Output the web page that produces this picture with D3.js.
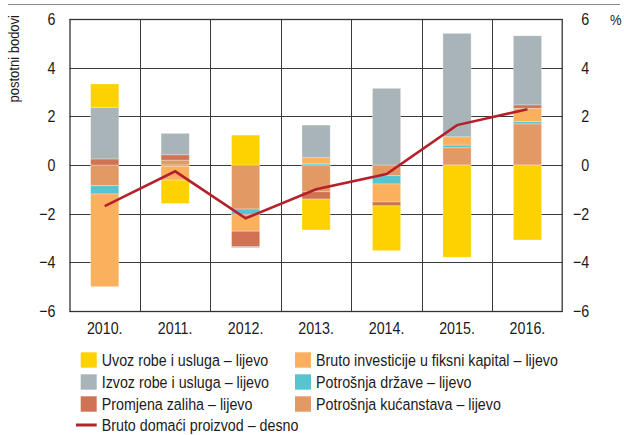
<!DOCTYPE html>
<html>
<head>
<meta charset="utf-8">
<script src="https://cdn.jsdelivr.net/npm/d3@7"></script>
<style>
  body { margin: 0; background: #fff; }
  text { font-family: "Liberation Sans", Arial, sans-serif; fill: #1d1a1b; }
</style>
</head>
<body>
<div id="chart"></div>
<script>
// data
const years = ["2010.", "2011.", "2012.", "2013.", "2014.", "2015.", "2016."]
const kucanstva = [-0.85, 0.20, -1.81, -1.10, -0.44, 0.71, 1.69]
const drzava = [-0.34, -0.05, -0.22, 0.05, -0.34, 0.11, 0.09]
const investicije = [-3.81, -0.57, -0.69, 0.25, -0.74, 0.34, 0.55]
const zaliha = [0.25, 0.22, -0.64, -0.30, -0.16, 0.0, 0.14]
const izvoz = [2.12, 0.88, -0.04, 1.34, 3.15, 4.25, 2.84]
const uvoz = [0.96, -0.96, 1.23, -1.27, -1.84, -3.79, -3.08]
const bdp = [-1.69, -0.26, -2.19, -1.00, -0.37, 1.64, 2.29]
const yTicks = [-6, -4, -2, 0, 2, 4, 6]

const width = 624, height = 435
const margin = {top: 19, right: 61.3, bottom: 124, left: 69.5}
const narrow = 0.84  // condensed face look

const series = [
  {key: "kucanstva", values: kucanstva, color: "#e29963", label: "Potrošnja kućanstava – lijevo"},
  {key: "drzava", values: drzava, color: "#56c5cf", label: "Potrošnja države – lijevo"},
  {key: "investicije", values: investicije, color: "#fbb05e", label: "Bruto investicije u fiksni kapital – lijevo"},
  {key: "zaliha", values: zaliha, color: "#d07355", label: "Promjena zaliha – lijevo"},
  {key: "izvoz", values: izvoz, color: "#a9b4b9", label: "Izvoz robe i usluga – lijevo"},
  {key: "uvoz", values: uvoz, color: "#fdd200", label: "Uvoz robe i usluga – lijevo"}
]

const table = years.map((y, i) => {
  const row = {year: y}
  series.forEach(s => row[s.key] = s.values[i])
  return row
})

const stack = d3.stack()
  .keys(series.map(s => s.key))
  .offset(d3.stackOffsetDiverging)
const stacked = stack(table)

const x = d3.scaleBand()
  .domain(years)
  .range([margin.left, width - margin.right])
  .padding(0)

const y = d3.scaleLinear()
  .domain([-6, 6])
  .range([height - margin.bottom, margin.top])

const svg = d3.select("#chart").append("svg")
  .attr("width", width)
  .attr("height", height)

// squeeze text horizontally around its anchor point
function condense(sel) {
  sel.each(function() {
    const t = d3.select(this)
    const tx = +t.attr("x") || 0, ty = +t.attr("y") || 0
    t.attr("x", 0).attr("y", 0)
      .attr("transform", `translate(${tx},${ty}) scale(${narrow},1)`)
  })
}

// top rule
svg.append("line")
  .attr("x1", 8).attr("x2", 620)
  .attr("y1", 4.5).attr("y2", 4.5)
  .attr("stroke", "#8a8a8a")
  .attr("stroke-width", 1)

// grid
const grid = svg.append("g").attr("stroke", "#3a3a3a").attr("stroke-width", 1)
grid.selectAll("line.h")
  .data(yTicks)
  .join("line")
    .attr("class", "h")
    .attr("x1", margin.left).attr("x2", width - margin.right)
    .attr("y1", d => Math.round(y(d)) + 0.5)
    .attr("y2", d => Math.round(y(d)) + 0.5)
grid.selectAll("line.v")
  .data(years.slice(1))
  .join("line")
    .attr("class", "v")
    .attr("x1", d => Math.round(x(d)) + 0.5)
    .attr("x2", d => Math.round(x(d)) + 0.5)
    .attr("y1", margin.top).attr("y2", height - margin.bottom)

// bars
const barW = x.bandwidth() * 0.4
svg.append("g")
  .selectAll("g")
  .data(stacked)
  .join("g")
    .attr("fill", (d, i) => series[i].color)
  .selectAll("rect")
  .data(d => d)
  .join("rect")
    .attr("x", d => x(d.data.year) + (x.bandwidth() - barW) / 2)
    .attr("width", barW)
    .attr("y", d => y(Math.max(d[0], d[1])))
    .attr("height", d => Math.abs(y(d[0]) - y(d[1])))
    .attr("stroke", "#ffffff")
    .attr("stroke-opacity", 0.35)
    .attr("stroke-width", 0.8)

// frame
svg.append("rect")
  .attr("x", margin.left + 0.5)
  .attr("y", margin.top + 0.5)
  .attr("width", width - margin.left - margin.right - 1)
  .attr("height", height - margin.top - margin.bottom)
  .attr("fill", "none")
  .attr("stroke", "#333")
  .attr("stroke-width", 1.3)

// GDP line
const line = d3.line()
  .x((d, i) => x(years[i]) + x.bandwidth() / 2)
  .y(d => y(d))
svg.append("path")
  .datum(bdp)
  .attr("d", line)
  .attr("fill", "none")
  .attr("stroke", "#b5202a")
  .attr("stroke-width", 2.6)

// axes
const fmt = d => d < 0 ? "\u2212" + Math.abs(d) : String(d)
const leftAxis = d3.axisLeft(y).tickValues(yTicks).tickFormat(fmt).tickSize(0).tickPadding(14)
const rightAxis = d3.axisRight(y).tickValues(yTicks).tickFormat(fmt).tickSize(0).tickPadding(9)
const gl = svg.append("g").attr("transform", `translate(${margin.left},0)`).call(leftAxis)
const gr = svg.append("g").attr("transform", `translate(${width - margin.right},0)`).call(rightAxis)
;[gl, gr].forEach(g => {
  g.select(".domain").remove()
  g.selectAll("text")
    .style("font-size", "17px")
    .attr("font-family", null)
})
gr.selectAll("text").attr("text-anchor", "end").attr("x", 26.5)
condense(gl.selectAll("text"))
condense(gr.selectAll("text"))

const xAxis = d3.axisBottom(x).tickSize(0).tickPadding(11)
const gx = svg.append("g").attr("transform", `translate(0,${height - margin.bottom})`).call(xAxis)
gx.select(".domain").remove()
gx.selectAll("text").style("font-size", "17px").attr("font-family", null)
condense(gx.selectAll("text"))

svg.append("text")
  .attr("text-anchor", "end")
  .attr("transform", `translate(19,15) rotate(-90) scale(${narrow},1)`)
  .style("font-size", "15.5px")
  .text("postotni bodovi")

svg.append("text")
  .attr("x", 610).attr("y", 25)
  .style("font-size", "15.5px")
  .text("%")
  .call(condense)

// legend
const legendItems = [
  {s: series[5], col: 0, row: 0},
  {s: series[4], col: 0, row: 1},
  {s: series[3], col: 0, row: 2},
  {s: series[2], col: 1, row: 0},
  {s: series[1], col: 1, row: 1},
  {s: series[0], col: 1, row: 2}
]
const colX = [80.7, 295]
const legend = svg.append("g")
legend.selectAll("rect")
  .data(legendItems)
  .join("rect")
    .attr("x", d => colX[d.col])
    .attr("y", d => 352.3 + d.row * 22)
    .attr("width", 16)
    .attr("height", 15.4)
    .attr("fill", d => d.s.color)
legend.selectAll("text.l")
  .data(legendItems)
  .join("text")
    .attr("class", "l")
    .attr("x", d => colX[d.col] + 21)
    .attr("y", d => 366 + d.row * 22)
    .style("font-size", "17px")
    .text(d => d.s.label)
    .call(condense)

legend.append("line")
  .attr("x1", 76).attr("x2", 96.7)
  .attr("y1", 425).attr("y2", 425)
  .attr("stroke", "#b5202a")
  .attr("stroke-width", 3)
legend.append("text")
  .attr("x", 101.7).attr("y", 431)
  .style("font-size", "17px")
  .text("Bruto domaći proizvod – desno")
  .call(condense)
</script>
</body>
</html>
